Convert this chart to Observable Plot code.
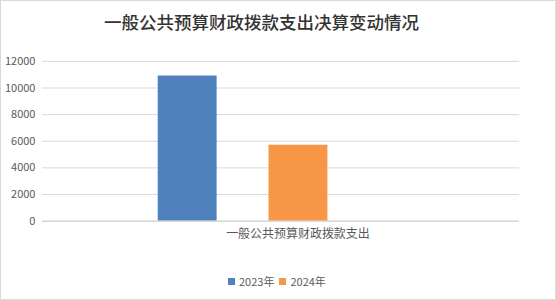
<!DOCTYPE html>
<html>
<head>
<meta charset="utf-8">
<script src="https://cdn.jsdelivr.net/npm/d3@7"></script>
<script src="https://cdn.jsdelivr.net/npm/@observablehq/plot@0.6"></script>
<style>
  html, body { margin: 0; padding: 0; background: #fff; }
  #wrap { position: relative; width: 556px; height: 300px; box-sizing: border-box; border: 1px solid #d9d9d9; overflow: hidden; font-family: "Noto Sans CJK SC", "Noto Sans", sans-serif; }
  #title { position: absolute; top: 7px; left: 103px; font-size: 17.5px; line-height: 28px; color: #333; font-weight: 500; white-space: nowrap; font-family: "Noto Sans CJK SC", sans-serif; }
  #chart { position: absolute; left: -1px; top: -1px; }
  #legend { position: absolute; top: 272px; left: 227px; font-size: 11px; color: #595959; display: flex; align-items: center; white-space: nowrap; font-family: "Noto Sans CJK SC", sans-serif; }
  .sw { display: inline-block; width: 7px; height: 7px; margin-right: 4px; }
  .item { display: flex; align-items: center; margin-right: 5px; }
</style>
</head>
<body>
<div id="wrap">
  <div id="title"></div>
  <div id="chart"></div>
  <div id="legend"></div>
</div>
<script>
const titleText = "一般公共预算财政拨款支出决算变动情况";
const category = "一般公共预算财政拨款支出";
const series = ["2023年", "2024年"];
const values = [10900, 5700];
const colors = ["#4f81bd", "#f79646"];
const yTicks = [0, 2000, 4000, 6000, 8000, 10000, 12000];

const data = series.map((s, i) => ({series: s, value: values[i]}));

document.getElementById("title").textContent = titleText;

const chart = Plot.plot({
  width: 556,
  height: 300,
  marginLeft: 42,
  marginRight: 36,
  marginTop: 61,
  marginBottom: 79,
  style: {fontFamily: "'Noto Sans CJK SC', sans-serif", fontSize: "11px", color: "#595959", background: "transparent"},
  x: {domain: series, range: [157, 329], paddingInner: 0.464, paddingOuter: 0, axis: null},
  y: {domain: [0, 12000], ticks: yTicks, label: null},
  color: {domain: series, range: colors},
  marks: [
    Plot.gridY(yTicks.filter(d => d > 0), {stroke: "#d9d9d9", strokeOpacity: 1}),
    Plot.axisY(yTicks, {tickSize: 0, tickPadding: 7, fill: "#595959", fontSize: 11, tickFormat: d => String(d)}),
    Plot.barY(data, {x: "series", y: "value", fill: "series"}),
    Plot.ruleY([0], {stroke: "#bfbfbf"}),
    Plot.text([category], {frameAnchor: "bottom", dy: 17, dx: 17, text: d => d, fill: "#595959", fontSize: 12})
  ]
});
document.getElementById("chart").appendChild(chart);

const legend = document.getElementById("legend");
series.forEach((s, i) => {
  const item = document.createElement("span");
  item.className = "item";
  const sw = document.createElement("span");
  sw.className = "sw";
  sw.style.background = colors[i];
  item.appendChild(sw);
  item.appendChild(document.createTextNode(s));
  legend.appendChild(item);
});
</script>
</body>
</html>
